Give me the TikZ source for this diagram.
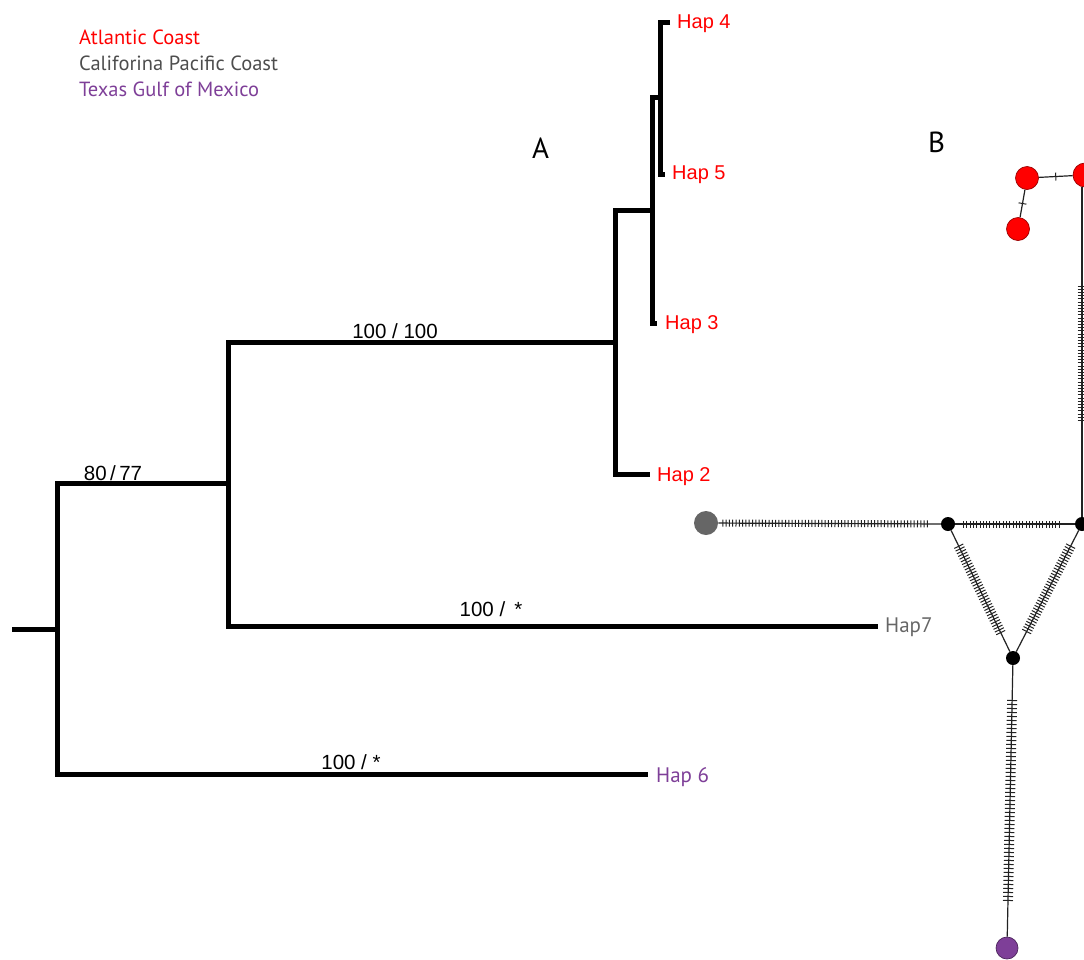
\documentclass[tikz,border=0pt]{standalone}
\usepackage{fontspec}
\setmainfont{Liberation Sans}
\newfontfamily\myr{PT Sans}
\usetikzlibrary{decorations.markings}
\definecolor{atl}{HTML}{FF0000}
\definecolor{cal}{HTML}{4D4D4D}
\definecolor{tex}{HTML}{7E3F98}
\definecolor{hgray}{HTML}{666666}
\definecolor{edge}{HTML}{222222}
\begin{document}
\begin{tikzpicture}[x=1pt,y=-1pt,
  tree/.style={line width=5pt, line join=miter, line cap=butt, black},
  lab/.style={anchor=base west, inner sep=0pt, font=\fontsize{20}{24}\selectfont},
  sup/.style={anchor=base, inner sep=0pt, font=\fontsize{20.5}{24}\selectfont},
  leg/.style={anchor=base west, inner sep=0pt, font=\myr\fontsize{20.5}{24}\selectfont},
  panel/.style={anchor=base west, inner sep=0pt, font=\myr\fontsize{29}{34}\selectfont},
  net/.style={draw=edge, line width=1.2pt},
  hap/.style={circle, inner sep=0pt, draw=#1!60!black, line width=0.7pt, fill=#1},
  mv/.style={circle, inner sep=0pt, fill=black, minimum size=14pt},
  hatch/.style n args={4}{postaction={decorate, decoration={markings,
     mark=between positions #1 and #2 step #3 with {\draw[edge, line width=1pt] (0pt,-#4) -- (0pt,#4);}}}},
  onetick/.style={postaction={decorate, decoration={markings,
     mark=at position 0.5 with {\draw[edge, line width=1pt] (0pt,-4pt) -- (0pt,4pt);}}}}
]
\useasboundingbox (0,0) rectangle (1084,959);

% legend
\node[leg, atl] (legA) at (79,44) {Atlantic Coast};
\node[leg, cal] (legC) at (79,70) {Califorina Pacific Coast};
\node[leg, tex] (legT) at (79,96) {Texas Gulf of Mexico};

% panel letters
\node[panel] (pA) at (532,158) {A};
\node[panel] (pB) at (928,152) {B};

% ---------- tree ----------
\coordinate (root) at (12,629);
\coordinate (c1) at (57,629);
\coordinate (c2) at (228,483);
\coordinate (c3) at (615,342);
\coordinate (c4) at (652,210);
\coordinate (c5) at (660,97);

\node[lab, atl] (h4) at (677,28) {Hap 4};
\node[lab, atl] (h5) at (672,179) {Hap 5};
\node[lab, atl] (h3) at (665,329) {Hap 3};
\node[lab, atl] (h2) at (657,481) {Hap 2};
\node[lab, hgray, font=\myr\fontsize{21}{24}\selectfont] (h7) at (885,632) {Hap7};
\node[lab, tex, font=\myr\fontsize{21}{24}\selectfont] (h6) at (656,782) {Hap 6};

\draw[tree] (root) -- (c1);
\draw[tree] (c2) -- (c2 -| c1) -- (c1 |- 0,774) -- (648,774);
\draw[tree] (c3) -- (c3 -| c2) -- (c2 |- 0,626) -- (878,626);
\draw[tree] (c4) -- (c4 -| c3) -- (c3 |- 0,474) -- (650,474);
\draw[tree] (c5) -- (c5 -| c4) -- (c4 |- 0,323) -- (657,323);
\draw[tree] (670,22) -- (c5 |- 0,22) -- (c5 |- 0,174) -- (665,174);

\node[sup] (s1) at (113,480) {80\,/\,77};
\node[sup] (s2) at (395,338) {100 / 100};
\node[sup] (s3) at (491,616) {100 / \,*};
\node[sup] (s4) at (351,769) {100 / *};

% ---------- network ----------
\node[hap=hgray, draw=none, minimum size=24pt] (g) at (706,523) {};
\node[mv] (n1) at (948,524) {};
\node[mv] (n2) at (1082,524) {};
\node[mv] (n3) at (1013,658) {};
\node[hap=tex, minimum size=22pt] (p) at (1007,948) {};
\node[hap=atl, minimum size=24pt] (r1) at (1085,175) {};
\node[hap=atl, minimum size=23pt] (r2) at (1027,178) {};
\node[hap=atl, minimum size=23pt] (r3) at (1018,229) {};

\draw[net, hatch={0.02}{0.95}{3.3pt}{3.5pt}] (g) -- (n1);
\draw[net, hatch={0.07}{0.88}{3.3pt}{3.5pt}] (n1) -- (n2);
\draw[net, hatch={0.13}{0.85}{3pt}{5pt}] (n1) -- (n3);
\draw[net, hatch={0.13}{0.85}{3pt}{5pt}] (n2) -- (n3);
\draw[net, hatch={0.13}{0.88}{4pt}{5pt}] (n3) -- (p);
\draw[net, hatch={0.3}{0.71}{3.2pt}{4.5pt}] (n2 |- r1.south) -- (n2);
\draw[net, onetick] (r2) -- (r1);
\draw[net, onetick] (r2) -- (r3);
\end{tikzpicture}
\end{document}
